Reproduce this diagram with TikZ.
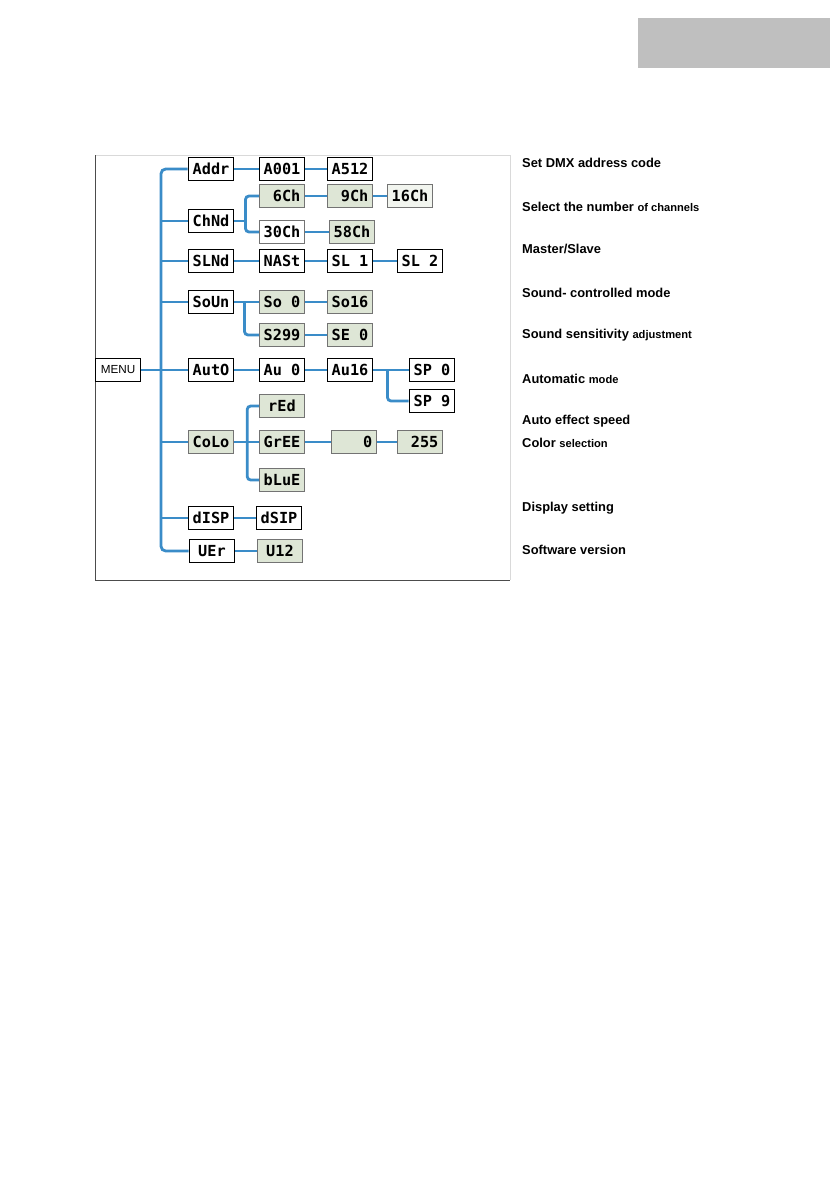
\documentclass[tikz,border=0pt]{standalone}
\usepackage{fontspec}
\setmainfont{Liberation Sans}
\newfontfamily\lcdfont{DejaVu Sans Mono}
\definecolor{wireblue}{RGB}{58,140,200}
\definecolor{lcdgreen}{RGB}{222,230,214}
\tikzset{
  lcd/.style={rectangle, draw=black, line width=1.4pt, fill=white, minimum height=0.7cm, minimum width=1.36cm, inner sep=0pt, font=\lcdfont\bfseries\fontsize{13}{13}\selectfont},
  lcdg/.style={lcd, draw=black!55, line width=0.9pt, fill=lcdgreen},
  wire/.style={draw=wireblue, line width=2.4pt},
  lbl/.style={right, inner sep=0pt, font=\bfseries\fontsize{11}{13}\selectfont},
}
\newcommand{\sm}[1]{{\fontsize{9.5}{13}\selectfont #1}}
\begin{document}
\begin{tikzpicture}[x=0.03cm, y=-0.03cm]
\useasboundingbox (0,0) rectangle (838,1190);

\fill [black!25] (638,18) rectangle (830,68);

\draw [black!15, thick] (95,155) -- (510,155) -- (510,580);
\draw [black!70, thick] (95,155) -- (95,580) -- (510,580);

\draw (118,370) node (menu) [rectangle, draw, line width=0.8pt, minimum height=0.7cm, minimum width=1.35cm, font=\fontsize{10}{12}\selectfont] {MENU};

% first column
\draw (211,169) node (addr) [lcd] {Addr};
\draw (211,221) node (chnd) [lcd] {ChNd};
\draw (211,261) node (slnd) [lcd] {SLNd};
\draw (211,302) node (soun) [lcd] {SoUn};
\draw (211,370) node (auto) [lcd] {AutO};
\draw (211,442) node (colo) [lcdg] {CoLo};
\draw (211,518) node (disp) [lcd] {dISP};
\draw (212,551) node (uer) [lcd] {UEr~};

% second column
\draw (282,169) node (a001) [lcd] {A001};
\draw (282,196) node (c6) [lcdg] {~6Ch};
\draw (282,232) node (c30) [lcdg, fill=white] {30Ch};
\draw (282,261) node (nast) [lcd] {NASt};
\draw (282,302) node (so0) [lcdg] {So 0};
\draw (282,335) node (s299) [lcdg] {S299};
\draw (282,370) node (au0) [lcd] {Au 0};
\draw (282,406) node (red) [lcdg] {rEd~};
\draw (282,442) node (gree) [lcdg] {GrEE};
\draw (282,480) node (blue) [lcdg] {bLuE};
\draw (279,518) node (dsip) [lcd] {dSIP};
\draw (280,551) node (u12) [lcdg] {U12~};

% third column
\draw (350,169) node (a512) [lcd] {A512};
\draw (350,196) node (c9) [lcdg] {~9Ch};
\draw (352,232) node (c58) [lcdg] {58Ch};
\draw (350,261) node (sl1) [lcd] {SL 1};
\draw (350,302) node (so16) [lcdg] {So16};
\draw (350,335) node (se0) [lcdg] {SE 0};
\draw (350,370) node (au16) [lcd] {Au16};
\draw (354,442) node (zero) [lcdg] {~~~0};
\draw (410,196) node (c16) [lcdg, fill=lcdgreen!40] {16Ch};
\draw (420,261) node (sl2) [lcd] {SL 2};
\draw (432,370) node (sp0) [lcd] {SP 0};
\draw (432,401) node (sp9) [lcd] {SP 9};
\draw (420,442) node (c255) [lcdg] {~255};

% trunk
\coordinate (tk) at (161,0);
\draw [wire, rounded corners=4pt] (addr.west) -| (tk |- uer) -- (uer.west);
\draw [wire] (tk |- chnd) -- (chnd.west);
\draw [wire] (tk |- slnd) -- (slnd.west);
\draw [wire] (tk |- soun) -- (soun.west);
\draw [wire] (menu.east) -- (auto.west);
\draw [wire] (tk |- colo) -- (colo.west);
\draw [wire] (tk |- disp) -- (disp.west);

% branches
\draw [wire] (addr) -- (a001) -- (a512);
\draw [wire] (slnd) -- (nast) -- (sl1) -- (sl2);
\draw [wire] (auto) -- (au0) -- (au16);
\draw [wire] (disp) -- (dsip);
\draw [wire] (uer) -- (u12);
\draw [wire] (c6) -- (c9) -- (c16);
\draw [wire] (c30) -- (c58);
\draw [wire] (so0) -- (so16);
\draw [wire] (s299) -- (se0);
\draw [wire] (gree) -- (zero) -- (c255);

\path (chnd.east) -- +(11,0) coordinate (cb);
\draw [wire] (chnd.east) -- (cb);
\draw [wire, rounded corners=3pt] (c6.west) -| (cb) |- (c30.west);

\path (soun.east) -- +(10,0) coordinate (sb);
\draw [wire] (soun.east) -- (so0.west);
\draw [wire, rounded corners=3pt] (sb) |- (s299.west);

\path (au16.east) -- +(14,0) coordinate (ab);
\draw [wire] (au16.east) -- (sp0.west);
\draw [wire, rounded corners=3pt] (ab) |- (sp9.west);

\path (colo.east) -- +(13,0) coordinate (cl);
\draw [wire] (colo.east) -- (gree.west);
\draw [wire, rounded corners=3pt] (red.west) -| (cl) |- (blue.west);

% labels
\draw (522,163) node (t1) [lbl] {Set DMX address code};
\draw (522,207) node (t2) [lbl] {Select the number \sm{of channels}};
\draw (522,249) node (t3) [lbl] {Master/Slave};
\draw (522,293) node (t4) [lbl] {Sound- controlled mode};
\draw (522,335) node (t5) [lbl] {Sound sensitivity \sm{adjustment}};
\draw (522,379) node (t6) [lbl] {Automatic \sm{mode}};
\draw (522,421) node (t7) [lbl] {Auto effect speed};
\draw (522,443) node (t8) [lbl] {Color \sm{selection}};
\draw (522,508) node (t9) [lbl] {Display setting};
\draw (522,550) node (t10) [lbl] {Software version};

\end{tikzpicture}
\end{document}
